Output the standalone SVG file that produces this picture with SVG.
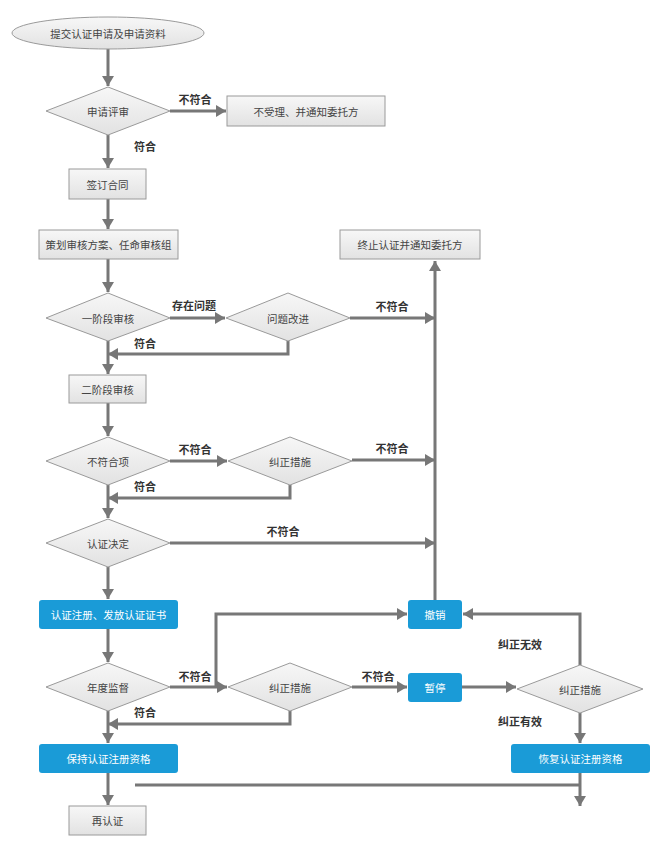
<svg xmlns="http://www.w3.org/2000/svg" width="660" height="848" viewBox="0 0 660 848">
<defs>
<linearGradient id="g" x1="0" y1="0" x2="0" y2="1"><stop offset="0" stop-color="#f7f7f7"/><stop offset="1" stop-color="#e2e2e2"/></linearGradient>
<marker id="a" viewBox="0 0 10 12" refX="10" refY="6" markerWidth="10" markerHeight="12" markerUnits="userSpaceOnUse" orient="auto"><path d="M0,0 L10,6 L0,12 Z" fill="#777"/></marker>
<style>
.n{fill:url(#g);stroke:#9a9a9a;stroke-width:1}
.b{fill:#1a9bd7;stroke:none}
.t{font-family:"Noto Sans CJK SC","Noto Sans",sans-serif;font-size:10.5px;fill:#444;text-anchor:middle;dominant-baseline:central}
.w{fill:#fff}
.l{font-family:"Noto Sans CJK SC","Noto Sans",sans-serif;font-size:11px;font-weight:bold;fill:#333;text-anchor:middle;dominant-baseline:central}
.c{fill:none;stroke:#777;stroke-width:3}
</style>
</defs>
<rect width="660" height="848" fill="#fff"/>
<g id="connectors">
<path class="c" d="M108,49 V86" marker-end="url(#a)"/>
<path class="c" d="M170,111 H226" marker-end="url(#a)"/>
<path class="c" d="M108,135 V168" marker-end="url(#a)"/>
<path class="c" d="M108,199 V229" marker-end="url(#a)"/>
<path class="c" d="M108,259 V292" marker-end="url(#a)"/>
<path class="c" d="M170,318 H225" marker-end="url(#a)"/>
<path class="c" d="M350,318 H435" marker-end="url(#a)"/>
<path class="c" d="M288,341 V354 H108" marker-end="url(#a)"/>
<path class="c" d="M108,341 V374" marker-end="url(#a)"/>
<path class="c" d="M108,403 V436" marker-end="url(#a)"/>
<path class="c" d="M170,461 H227" marker-end="url(#a)"/>
<path class="c" d="M352,460 H435" marker-end="url(#a)"/>
<path class="c" d="M290,485 V498 H108" marker-end="url(#a)"/>
<path class="c" d="M108,485 V518" marker-end="url(#a)"/>
<path class="c" d="M170,543 H435" marker-end="url(#a)"/>
<path class="c" d="M108,567 V599" marker-end="url(#a)"/>
<path class="c" d="M435,600 V261" marker-end="url(#a)"/>
<path class="c" d="M108,629 V662" marker-end="url(#a)"/>
<path class="c" d="M170,687 H227" marker-end="url(#a)"/>
<path class="c" d="M216,687 V614 H407" marker-end="url(#a)"/>
<path class="c" d="M352,687 H407" marker-end="url(#a)"/>
<path class="c" d="M462,687 H516" marker-end="url(#a)"/>
<path class="c" d="M580,665 V614 H463" marker-end="url(#a)"/>
<path class="c" d="M580,713 V743" marker-end="url(#a)"/>
<path class="c" d="M290,711 V724 H108" marker-end="url(#a)"/>
<path class="c" d="M108,711 V743" marker-end="url(#a)"/>
<path class="c" d="M108,773 V805" marker-end="url(#a)"/>
<path class="c" d="M135,785 H580"/>
<path class="c" d="M580,773 V806" marker-end="url(#a)"/>
<text class="l" x="195" y="99">不符合</text>
<text class="l" x="145" y="146">符合</text>
<text class="l" x="194" y="305">存在问题</text>
<text class="l" x="392" y="306">不符合</text>
<text class="l" x="145" y="343">符合</text>
<text class="l" x="195" y="449">不符合</text>
<text class="l" x="392" y="448">不符合</text>
<text class="l" x="145" y="486">符合</text>
<text class="l" x="283" y="531">不符合</text>
<text class="l" x="195" y="676">不符合</text>
<text class="l" x="378" y="676">不符合</text>
<text class="l" x="145" y="712">符合</text>
<text class="l" x="520" y="644">纠正无效</text>
<text class="l" x="520" y="721">纠正有效</text>
</g>
<g id="start"><ellipse class="n" cx="108" cy="33" rx="96" ry="16"/><text class="t" x="108" y="33">提交认证申请及申请资料</text></g>
<g id="review"><polygon class="n" points="108,87 170,111 108,135 46,111"/><text class="t" x="108" y="111">申请评审</text></g>
<g id="reject"><rect class="n" x="227" y="96" width="158" height="30"/><text class="t" x="306" y="111">不受理、并通知委托方</text></g>
<g id="contract"><rect class="n" x="69" y="169" width="77" height="30"/><text class="t" x="107.5" y="184">签订合同</text></g>
<g id="plan"><rect class="n" x="39" y="230" width="139" height="29"/><text class="t" x="108.5" y="244.5">策划审核方案、任命审核组</text></g>
<g id="terminate"><rect class="n" x="340" y="230" width="140" height="29"/><text class="t" x="410" y="244.5">终止认证并通知委托方</text></g>
<g id="stage1"><polygon class="n" points="108,293 170,318 108,341 46,318"/><text class="t" x="108" y="318">一阶段审核</text></g>
<g id="improve"><polygon class="n" points="288,293 350,318 288,341 226,318"/><text class="t" x="288" y="318">问题改进</text></g>
<g id="stage2"><rect class="n" x="69" y="375" width="77" height="28"/><text class="t" x="107.5" y="389">二阶段审核</text></g>
<g id="nc"><polygon class="n" points="108,437 170,461 108,485 46,461"/><text class="t" x="108" y="461">不符合项</text></g>
<g id="fix1"><polygon class="n" points="290,437 352,461 290,485 228,461"/><text class="t" x="290" y="461">纠正措施</text></g>
<g id="decision"><polygon class="n" points="108,519 170,543 108,567 46,543"/><text class="t" x="108" y="543">认证决定</text></g>
<g id="register"><rect class="b" x="39" y="600" width="139" height="29" rx="3"/><text class="t w" x="108.5" y="614.5">认证注册、发放认证证书</text></g>
<g id="revoke"><rect class="b" x="408" y="600" width="54" height="29" rx="3"/><text class="t w" x="435" y="614.5">撤销</text></g>
<g id="annual"><polygon class="n" points="108,663 170,687 108,711 46,687"/><text class="t" x="108" y="687">年度监督</text></g>
<g id="fix2"><polygon class="n" points="290,663 352,687 290,711 228,687"/><text class="t" x="290" y="687">纠正措施</text></g>
<g id="suspend"><rect class="b" x="408" y="673" width="54" height="29" rx="3"/><text class="t w" x="435" y="687.5">暂停</text></g>
<g id="fix3"><polygon class="n" points="580,665 643,689 580,713 517,689"/><text class="t" x="580" y="689">纠正措施</text></g>
<g id="keep"><rect class="b" x="39" y="744" width="139" height="29" rx="3"/><text class="t w" x="108.5" y="758.5">保持认证注册资格</text></g>
<g id="restore"><rect class="b" x="511" y="744" width="139" height="29" rx="3"/><text class="t w" x="580.5" y="758.5">恢复认证注册资格</text></g>
<g id="recert"><rect class="n" x="69" y="806" width="77" height="29"/><text class="t" x="107.5" y="820.5">再认证</text></g>
</svg>
